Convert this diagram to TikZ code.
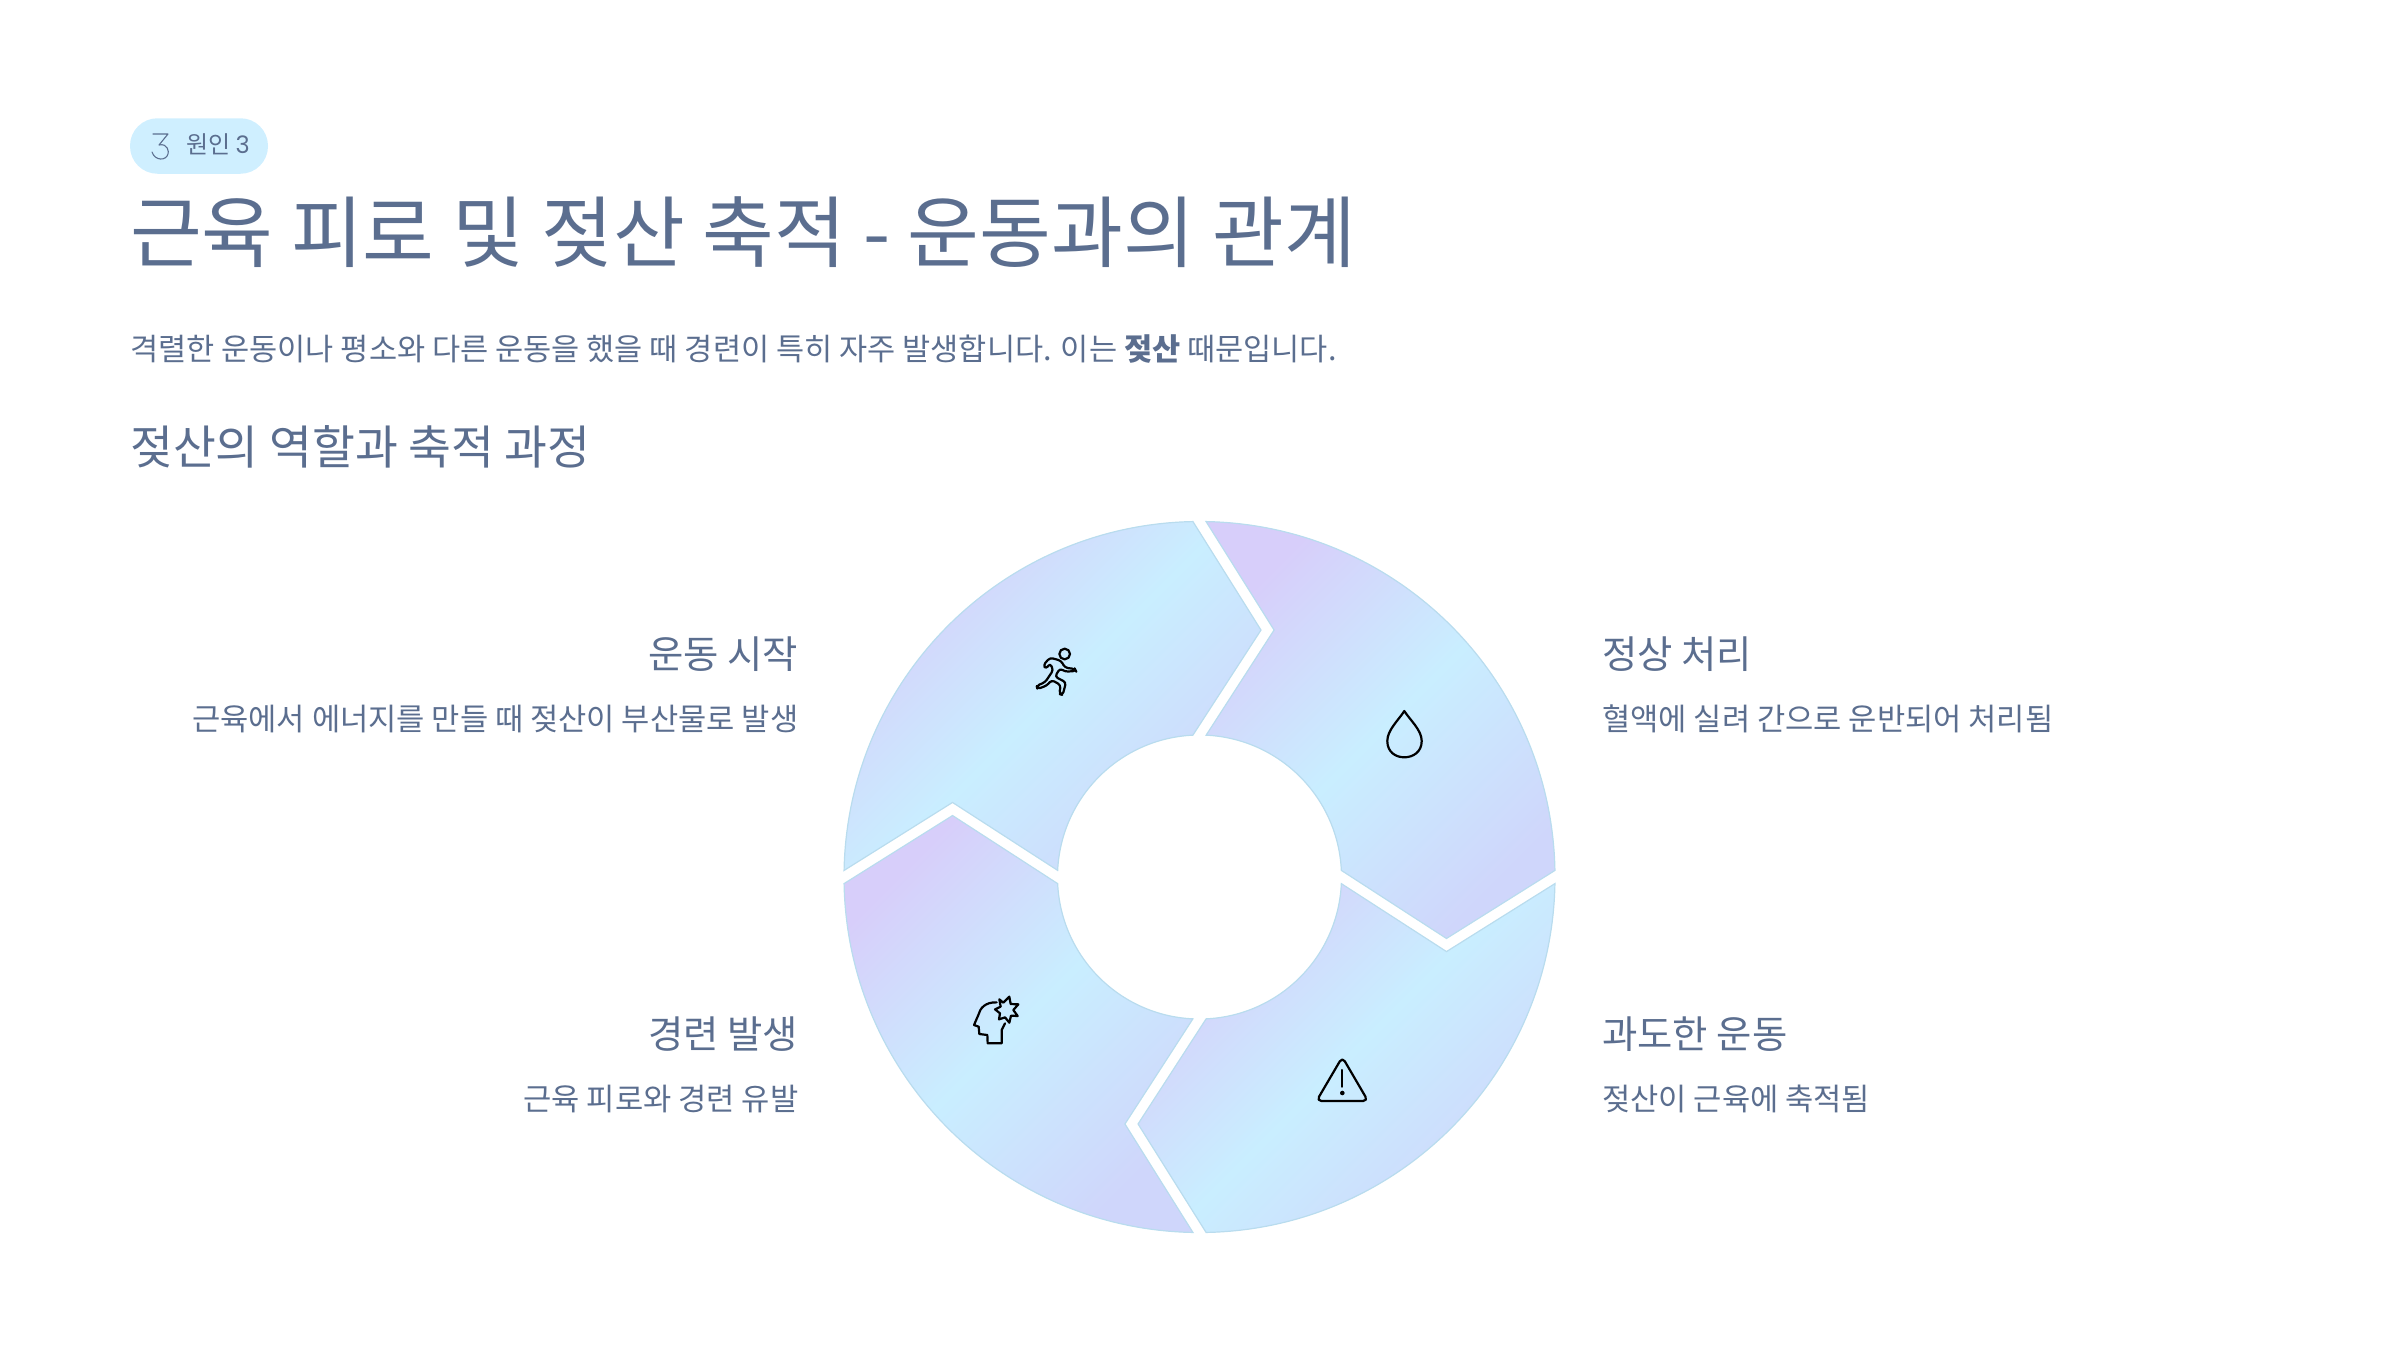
\documentclass[tikz,border=0pt]{standalone}
\usepackage{fontspec}
\setmainfont{Noto Sans CJK KR}
\newfontfamily\digitfont{Poppins}
\usetikzlibrary{positioning, calc}

\definecolor{inktext}{HTML}{5B6E8F}
\definecolor{pillblue}{HTML}{CFEFFF}
\definecolor{segedge}{HTML}{B9DCEE}
\definecolor{segpurple}{HTML}{D7CEFA}
\definecolor{segblue}{HTML}{C9EEFF}
\definecolor{segperi}{HTML}{CFD6FB}

\begin{document}
\begin{tikzpicture}[
    x=1pt, y=-1pt,
    node distance=30pt,
    txt/.style={inner sep=0pt, text=inktext},
    titletxt/.style={txt, anchor=base west, font=\fontsize{78}{96}\selectfont},
    leadtxt/.style={txt, anchor=base west, font=\fontsize{30.6}{40}\selectfont},
    headtxt/.style={txt, anchor=base west, font=\fontsize{46.6}{58}\selectfont},
    steptxt/.style={txt, font=\fontsize{38.4}{48}\selectfont},
    desctxt/.style={txt, font=\fontsize{30.7}{40}\selectfont},
    segment/.style={draw=segedge, line width=1.2pt, left color=segpurple, right color=segperi, middle color=segblue, shading angle=45},
    icon/.style={draw=black, line width=2.2pt, line join=round, line cap=round}
]
    \useasboundingbox (0,0) rectangle (2400,1350);
    \coordinate (hub) at (1199.5,877);

    % Badge
    \node[fill=pillblue, rounded corners=27.5pt, minimum width=138pt, minimum height=55.5pt, inner sep=0pt] (badge) at (199,146) {};
    \node[txt, anchor=base west, font=\fontsize{24}{30}\selectfont] (badgetxt) at (186,153.5) {원인 {\digitfont 3}};
    \draw[inktext, line width=1.1pt, line cap=round, line join=round] (153,134) -- (168,134) -- (159,145) .. controls (168,143) and (169,152) .. (168,154) .. controls (166,161) and (155,161) .. (152,152);

    % Title and lead text
    \node[titletxt] (title) at (130,261) {근육 피로 및 젖산 축적 - 운동과의 관계};
    \node[leadtxt] (lead) at (130,360) {격렬한 운동이나 평소와 다른 운동을 했을 때 경련이 특히 자주 발생합니다. 이는 \textbf{젖산} 때문입니다.};
    \node[headtxt] (section) at (130,464) {젖산의 역할과 축적 과정};

    % Ring segments
    \foreach \rot in {0,90,180,270} {
        \shadedraw[segment] ($(hub)+(\rot-88.94:355.5)$) arc[start angle=\rot-88.94, end angle=\rot-1.06, radius=355.5]
            -- ($(hub)+(\rot+13.98:254.5)$)
            -- ($(hub)+(\rot-2.67:142)$) arc[start angle=\rot-2.67, end angle=\rot-87.33, radius=142]
            -- ($(hub)+(\rot-73.2:258)$) -- cycle;
    }

    % Step labels, left side
    \node[steptxt, anchor=base east] (startlbl) at (798.5,668) {운동 시작};
    \node[desctxt, anchor=base east] (startdesc) at (798.5,730) {근육에서 에너지를 만들 때 젖산이 부산물로 발생};
    \node[steptxt, anchor=base east] (crampl) at (798.5,1048) {경련 발생};
    \node[desctxt, anchor=base east] (crampdesc) at (798.5,1110) {근육 피로와 경련 유발};

    % Step labels, right side
    \node[steptxt, anchor=base west] (normallbl) at (1602,668) {정상 처리};
    \node[desctxt, anchor=base west] (normaldesc) at (1602,730) {혈액에 실려 간으로 운반되어 처리됨};
    \node[steptxt, anchor=base west] (overlbl) at (1602,1048) {과도한 운동};
    \node[desctxt, anchor=base west] (overdesc) at (1602,1110) {젖산이 근육에 축적됨};

    % Runner icon
    \begin{scope}[shift={(1000,620)}, x=0.3333pt, y=-0.3333pt]
        \draw[icon] (194,102) circle[radius=16];
        \draw[icon, rounded corners=3pt] (130,135) -- (150,113) -- (183,122) -- (195,143) -- (225,147) -- (228,153) -- (195,155) -- (180,145) -- (165,170) -- (198,187) -- (188,225) -- (178,222) -- (182,195) -- (155,180) -- (140,197) -- (112,207) -- (110,197) -- (135,187) -- (160,150) -- (150,130) -- (138,147) -- cycle;
    \end{scope}

    % Drop icon
    \draw[icon] (1404.3,711) .. controls (1410,720) and (1421.7,730) .. (1421.7,741) .. controls (1421.7,752) and (1413,757.3) .. (1404.3,757.3) .. controls (1395.6,757.3) and (1387.3,752) .. (1387.3,741) .. controls (1387.3,730) and (1398.6,720) .. cycle;

    % Warning icon
    \draw[icon, rounded corners=5pt] (1342.3,1057) -- (1316.5,1101) -- (1368,1101) -- cycle;
    \draw[icon] (1342.3,1070) -- (1342.3,1086.7);
    \fill (1342.3,1093) circle[radius=2.3];

    % Head icon
    \begin{scope}[shift={(950,980)}, x=0.3333pt, y=-0.3333pt]
        \draw[icon] (140,67) .. controls (105,66) and (90,85) .. (85,105) -- (72,135) -- (86,140) -- (88,162) -- (112,165) -- (113,190) -- (155,190) -- (155,150) -- (165,130);
        \draw[icon] (148,58) -- (160,68) -- (178,50) -- (182,72) -- (205,73) -- (190,90) -- (203,108) -- (183,107) -- (178,128) -- (165,112) -- (147,118) -- (150,100) -- (135,88) -- (152,80) -- cycle;
    \end{scope}
\end{tikzpicture}
\end{document}
